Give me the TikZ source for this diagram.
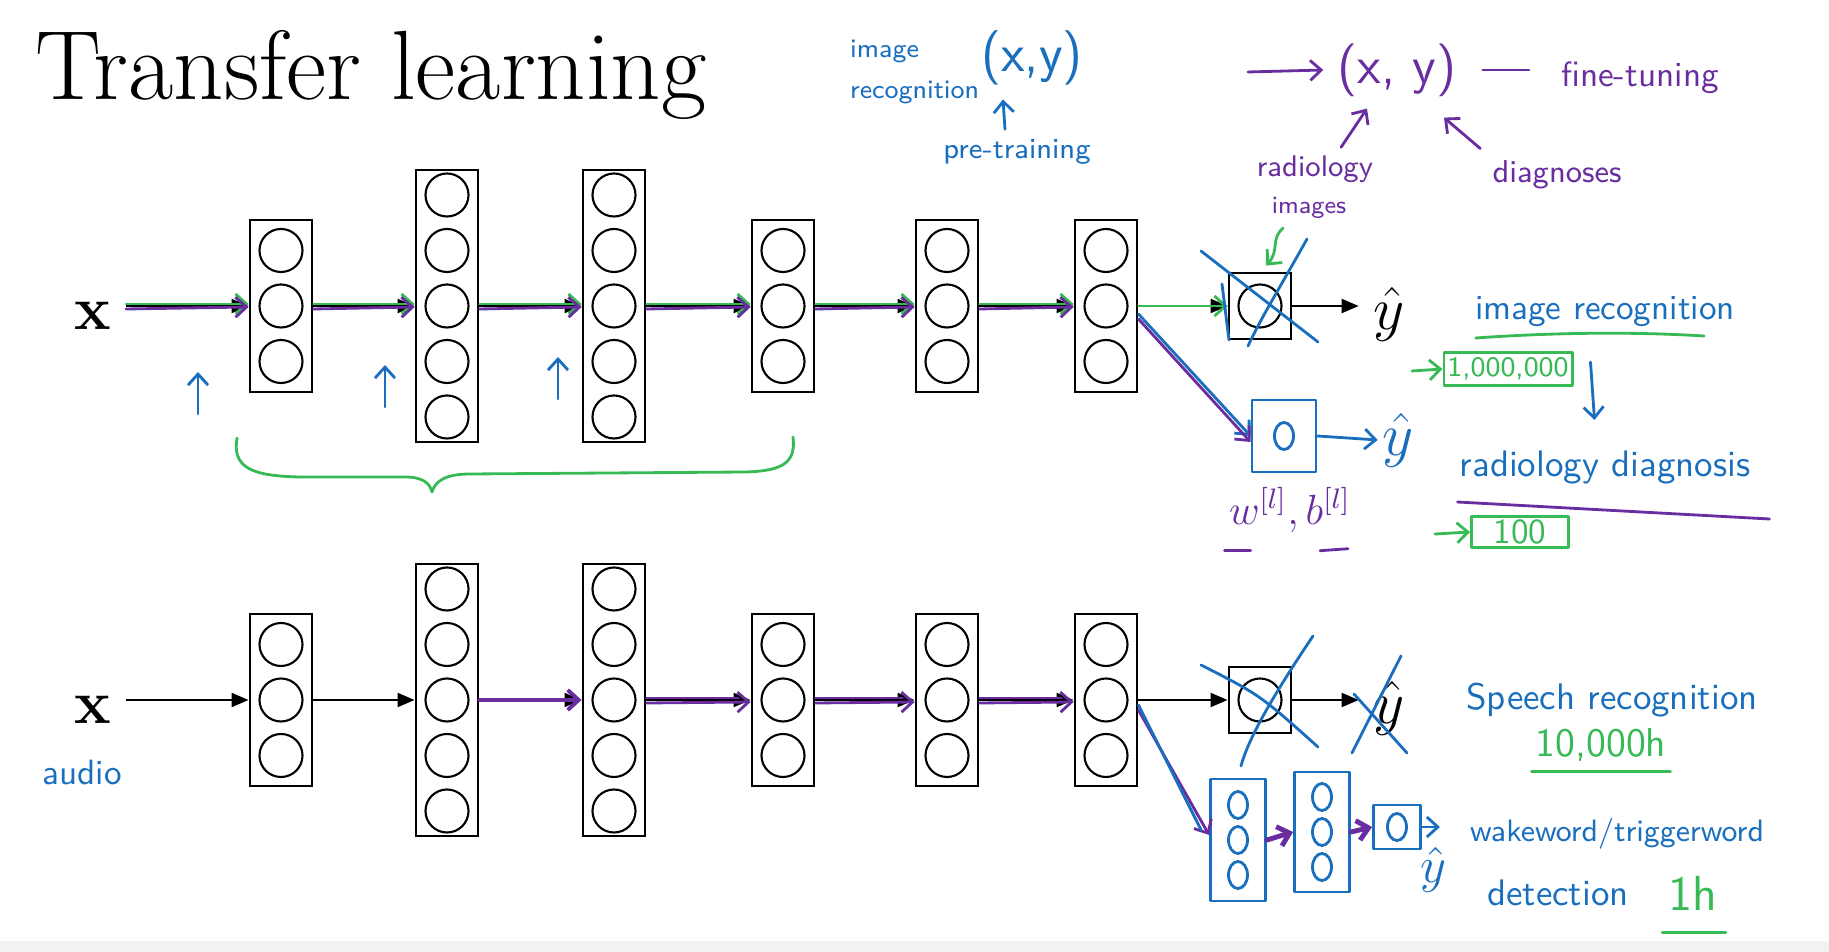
\documentclass[tikz,border=0pt]{standalone}
\usepackage{fontspec}
\usetikzlibrary{arrows.meta,positioning,calc,shapes.geometric}

\definecolor{penblue}{RGB}{25,110,190}
\definecolor{penpurple}{RGB}{105,45,160}
\definecolor{pengreen}{RGB}{55,185,85}

\begin{document}
\begin{tikzpicture}[
    x=0.01cm, y=-0.01cm,
    layer/.style={draw, line width=0.8pt, minimum width=0.62cm, inner sep=0pt},
    neuron/.style={draw, circle, line width=0.6pt, minimum size=0.43cm, inner sep=0pt},
    net/.style={line width=0.6pt, -{Triangle[length=0.17cm, width=0.14cm]}},
    pen/.style={line width=0.8pt, line cap=round, line join=round},
    penarr/.style={pen, -{Straight Barb[length=0.11cm, width=0.2cm]}},
    hand/.style={font=\sffamily\fontsize{#1}{#1}\selectfont, inner sep=1pt},
    hand/.default=10,
    blob/.style={draw, ellipse, pen, minimum width=0.19cm, minimum height=0.27cm, inner sep=0pt},
    big/.style={font=\fontsize{19}{20}\selectfont, inner sep=0pt},
    bigx/.style={font=\bfseries\fontsize{17.5}{20}\selectfont, inner sep=0pt},
  ]
  \useasboundingbox (0,0) rectangle (1829,952);
  \fill[black!5] (0,941) rectangle (1829,952);

  \node[anchor=base west, font=\fontsize{28}{32}\selectfont, inner sep=0pt] (title) at (35,100) {Transfer learning};

  % the two networks
  \foreach \row/\ry in {a/306, b/700}{
    \foreach \nm/\cx/\n in {1/281/3, 2/447/5, 3/614/5, 4/783/3, 5/947/3, 6/1106/3}{
      \node[layer, minimum height=\n*0.5cm+0.22cm] (\row\nm) at (\cx,\ry) {};
      \foreach \k in {1,...,\n}
        \node[neuron] (\row\nm-\k) at (\cx,{\ry+(\k-(\n+1)/2)*55.5}) {};
    }
    \node[layer, minimum height=0.66cm] (\row7) at (1260,\ry) {};
    \node[neuron] (\row7-1) at (\row7) {};
  }
  \node[bigx] (xa) at (93,316) {x};
  \node[bigx] (xb) at (93,710) {x};
  \node[big] (ya) at (1389,314) {$\hat{y}$};
  \node[big] (yb) at (1389,708) {$\hat{y}$};
  \coordinate (xa0) at (126,306);
  \coordinate (xb0) at (126,700);

  \foreach \row in {a,b}{
    \draw[net] (x\row0) -- (\row1.west);
    \foreach \i/\j in {1/2,2/3,3/4,4/5,5/6,6/7}
      \draw[net] (\row\i.east) -- (\row\j.west);
    \draw[net] (\row7.east) -- ([xshift=-0.14cm]y\row.west |- \row7.east);
  }

  % pen strokes on the upper network
  \draw[penarr, pengreen] ([yshift=0.02cm]xa0) -- ([yshift=0.02cm]a1.west);
  \draw[penarr, penpurple] ([yshift=-0.03cm]xa0) -- ([yshift=-0.01cm]a1.west);
  \foreach \i/\j in {1/2,2/3,3/4,4/5,5/6}{
    \draw[penarr, pengreen] ([yshift=0.02cm]a\i.east) -- ([yshift=0.02cm]a\j.west);
    \draw[penarr, penpurple] ([yshift=-0.03cm]a\i.east) -- ([yshift=-0.01cm]a\j.west);
  }
  \draw[penarr, pengreen] (a6.east) -- (a7.west);

  % pen strokes on the lower network
  \draw[penarr, penpurple, line width=1.1pt] (b2.east) -- (b3.west);
  \foreach \i/\j in {3/4,4/5,5/6}{
    \draw[penarr, penpurple] ([yshift=-0.03cm]b\i.east) -- ([yshift=-0.02cm]b\j.west);
    \draw[pen, penpurple] ([yshift=0.02cm]b\i.east) -- ([xshift=-0.12cm, yshift=0.02cm]b\j.west);
  }

  \foreach \u/\ux/\uy in {1/198/414, 2/385/407, 3/558/399}{
    \coordinate (up\u) at (\ux,\uy);
    \draw[penarr, penblue] (up\u) -- ++(0,-42);
  }
  \draw[pen, pengreen] (237,438) .. controls (232,468) and (252,476) .. (300,477)
    -- (405,477) .. controls (424,477) and (430,484) .. (432,492)
    .. controls (435,482) and (444,474) .. (470,474)
    -- (745,472) .. controls (784,471) and (796,462) .. (793,437);

  % crossed-out output layers
  \draw[pen, penblue] ($(a7)+(-59,-55)$) -- ($(a7)+(58,36)$);
  \draw[pen, penblue] ($(a7)+(47,-67)$) .. controls ($(a7)+(22,-22)$) and ($(a7)+(2,10)$) .. ($(a7)+(-12,40)$);
  \draw[pen, penblue] ($(a7)+(-38,-22)$) -- ($(a7)+(-31,34)$);
  \coordinate (g0) at (1283,228);
  \draw[penarr, pengreen] (g0) .. controls (1270,240) and (1280,250) .. ($(a7.north)+(6,-6)$);

  \draw[pen, penblue] ($(b7)+(-59,-35)$) .. controls ($(b7)+(0,-5)$) .. ($(b7)+(58,47)$);
  \draw[pen, penblue] ($(b7)+(53,-64)$) .. controls ($(b7)+(10,0)$) and ($(b7)+(-12,40)$) .. ($(b7)+(-19,66)$);
  \draw[pen, penblue] ($(yb)+(-35,-14)$) -- ($(yb)+(18,45)$);
  \draw[pen, penblue] ($(yb)+(12,-52)$) -- ($(yb)+(-37,45)$);

  % new output for radiology
  \node[draw=penblue, pen, minimum width=0.64cm, minimum height=0.72cm] (s1) at (1284,436) {};
  \node[blob, penblue] (s1-1) at (s1) {};
  \draw[penarr, penblue] ([yshift=-0.08cm]a6.east) -- (s1.west);
  \draw[penarr, penpurple] ([yshift=-0.13cm]a6.east) -- ([yshift=-0.06cm]s1.west);
  \node[penblue, font=\fontsize{16}{16}\selectfont, inner sep=0pt] (ys1) at (1398,440) {$\hat{y}$};
  \draw[penarr, penblue] (s1.east) -- ([xshift=-0.04cm]ys1.west);
  \node[penpurple, font=\fontsize{12}{12}\selectfont] (wb) at (1290,510) {$w^{[l]}, b^{[l]}$};
  \draw[pen, penpurple] ($(wb.south west)+(8,6)$) -- ++(26,0);
  \draw[pen, penpurple] ($(wb.south)+(30,6)$) -- ++(28,-2);

  % new layers for wakeword detection
  \node[draw=penblue, pen, minimum width=0.55cm, minimum height=1.22cm] (c1) at (1238,840) {};
  \node[draw=penblue, pen, minimum width=0.55cm, minimum height=1.2cm] (c2) at (1322,832) {};
  \node[draw=penblue, pen, minimum width=0.47cm, minimum height=0.44cm] (c3) at (1397,827) {};
  \foreach \k/\dy in {1/-35, 2/0, 3/35}{
    \node[blob, penblue] (c1-\k) at ($(c1)+(0,\dy)$) {};
    \node[blob, penblue] (c2-\k) at ($(c2)+(0,\dy)$) {};
  }
  \node[blob, penblue] (c3-1) at (c3) {};
  \draw[penarr, penpurple, line width=1.4pt] (c1.east) -- (c2.west);
  \draw[penarr, penpurple, line width=1.4pt] (c2.east) -- (c3.west);
  \draw[penarr, penblue] (c3.east) -- ++(18,0);
  \node[penblue, font=\fontsize{14}{14}\selectfont, inner sep=0pt] (ys2) at (1433,870) {$\hat{y}$};
  \draw[penarr, penpurple] ([yshift=-0.1cm]b6.east) -- ([yshift=0.05cm]c1.west);
  \draw[pen, penblue] ([yshift=-0.05cm]b6.east) -- ([xshift=-0.08cm, yshift=0.1cm]c1.west);

  % notes at the top
  \node[hand=7.5, penblue, align=left, anchor=west] (ir0) at (846,72) {image\\[4pt]recognition};
  \node[hand=15.5, penblue] (xy1) at (1032,58) {(x,y)};
  \node[hand=8.2, penblue] (pt) at (1017,152) {pre-training};
  \draw[penarr, penblue] ($(pt.north)+(-12,-6)$) -- ($(xy1.south)+(-29,10)$);

  \node[hand=15, penpurple] (xy2) at (1397,70) {(x, y)};
  \coordinate (xy2in) at (1248,72);
  \draw[penarr, penpurple] (xy2in) -- ([xshift=-0.1cm]xy2.west);
  \node[hand=10, penpurple] (ft) at (1640,78) {fine-tuning};
  \draw[pen, penpurple] ([xshift=0.22cm]xy2.east) -- ([xshift=-0.28cm]ft.west |- xy2.east);
  \node[hand=8.5, penpurple] (rad) at (1315,169) {radiology};
  \node[hand=7, penpurple] (img) at (1309,208) {images};
  \node[hand=9, penpurple] (dg) at (1557,175) {diagnoses};
  \draw[penarr, penpurple] ($(rad.north)+(26,-4)$) -- ($(xy2.south)+(-30,8)$);
  \draw[penarr, penpurple] ($(dg.north west)+(-8,-8)$) -- ($(xy2.south)+(47,17)$);

  % notes on the right
  \node[hand=10, penblue] (ir) at (1605,312) {image recognition};
  \draw[pen, pengreen] ($(ir.west)+(5,26)$) .. controls ($(ir.west)+(90,20)$) and ($(ir.east)+(-100,20)$) .. ($(ir.east)+(-35,24)$);
  \node[hand=8, draw=pengreen, pen, text=pengreen, minimum height=0.33cm] (d1) at (1508,369) {1,000,000};
  \coordinate (d1in) at (1412,371);
  \draw[penarr, pengreen] (d1in) -- (d1.west);
  \draw[penarr, penblue] ($(d1.east)+(17,-7)$) -- ($(d1.east)+(21,51)$);
  \node[hand=10.5, penblue] (rd) at (1605,467) {radiology diagnosis};
  \draw[pen, penpurple] ($(rd.west)+(2,35)$) -- ($(rd.east)+(15,52)$);
  \node[hand=10, draw=pengreen, pen, text=pengreen, minimum width=0.97cm, minimum height=0.29cm] (d2) at (1520,532) {100};
  \coordinate (d2in) at (1435,534);
  \draw[penarr, pengreen] (d2in) -- (d2.west);

  \node[hand=10.5, penblue] (sr) at (1612,700) {Speech recognition};
  \node[hand=11.5, pengreen] (hr1) at (1601,745) {10,000h};
  \draw[pen, pengreen] ($(hr1.south west)+(0,6)$) -- ($(hr1.south east)+(0,6)$);
  \node[hand=8.8, penblue] (ww) at (1617,834) {wakeword/triggerword};
  \node[hand=10.5, penblue] (dt) at (1558,893) {detection};
  \node[hand=14, pengreen] (hr2) at (1693,893) {1h};
  \draw[pen, pengreen] ($(hr2.south west)+(-2,18)$) -- ($(hr2.south east)+(4,18)$);
  \node[hand=10, penblue] (au) at (82,772) {audio};
\end{tikzpicture}
\end{document}
